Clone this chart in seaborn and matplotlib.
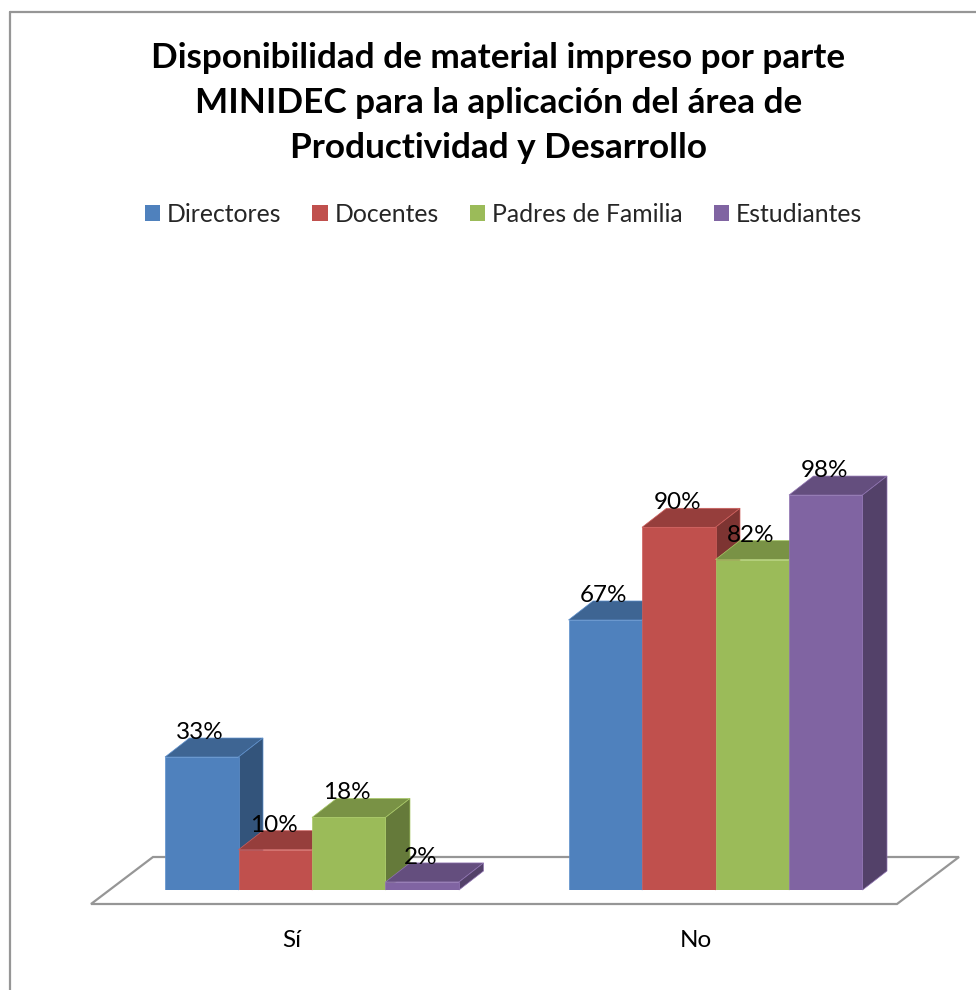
import matplotlib
matplotlib.use("Agg")
import matplotlib.pyplot as plt
from matplotlib.colors import to_rgb
from matplotlib.lines import Line2D
from matplotlib.patches import Patch, Polygon
import pandas as pd
import seaborn as sns

title = "Disponibilidad de material impreso por parte\nMINIDEC para la aplicación del área de\nProductividad y Desarrollo"
categories = ["Sí", "No"]
groups = ["Directores", "Docentes", "Padres de Familia", "Estudiantes"]
directores = [33, 67]
docentes = [10, 90]
padres = [18, 82]
estudiantes = [2, 98]
colors = ["#4F81BD", "#C0504D", "#9BBB59", "#8064A2"]

W, H = 976, 990
GREY = "#969696"

sns.set_theme(style="white")
plt.rcParams["font.family"] = ["Lato", "DejaVu Sans"]

rows = []
for name, vals in zip(groups, [directores, docentes, padres, estudiantes]):
    for c, v in zip(categories, vals):
        rows.append({"cat": c, "group": name, "pct": v})
df = pd.DataFrame(rows)


def fx(px):
    return px / W


def fy(py):
    return 1 - py / H


def shade(col, k):
    return tuple(v * k for v in to_rgb(col))


fig = plt.figure(figsize=(W / 100, H / 100), dpi=100, facecolor="white")
# plot area: one category = 403.5 px, 1 % = 4.03 px, baseline at y=890
ax = fig.add_axes([fx(110.25), fy(890), 807 / W, 640 / H], facecolor="none")
ax.set_zorder(2)

# outer frame, runs off the right and bottom of the image
fig.add_artist(Line2D([fx(10), fx(10)], [fy(12), 0], color=GREY, lw=1.6))
fig.add_artist(Line2D([fx(10), 1], [fy(12), fy(12)], color=GREY, lw=1.6))

# floor of the 3d chart
floor = [(91, 904), (897, 904), (959, 857), (153, 857)]
fig.add_artist(Polygon([(fx(x), fy(y)) for x, y in floor], closed=True,
                       transform=fig.transFigure, facecolor="white",
                       edgecolor=GREY, lw=1.6, joinstyle="miter"))

sns.barplot(data=df, x="cat", y="pct", hue="group", order=categories,
            hue_order=groups, palette=colors, saturation=1, width=0.7286,
            gap=0, legend=False, ax=ax)
ax.set_xlim(-0.5, 1.5)
ax.set_ylim(0, 640 / 4.03)

dx = 24.5 / 403.5
dy = 19 / 4.03
bars = []
for cont, col in zip(ax.containers, colors):
    for bar in cont.patches:
        bars.append((bar, col))
bars.sort(key=lambda b: b[0].get_x())

z = 3
for bar, col in bars:
    x0 = bar.get_x()
    x1 = x0 + bar.get_width()
    top = bar.get_height()
    edge = tuple(min(1, v + 0.06) for v in to_rgb(col))
    ax.add_patch(Polygon([(x0, top), (x1, top), (x1 + dx, top + dy), (x0 + dx, top + dy)],
                         facecolor=shade(col, 0.78), edgecolor=edge, lw=0.5, zorder=z, clip_on=False))
    ax.add_patch(Polygon([(x1, 0), (x1 + dx, dy), (x1 + dx, top + dy), (x1, top)],
                         facecolor=shade(col, 0.65), edgecolor=edge, lw=0.5, zorder=z, clip_on=False))
    bar.set_zorder(z + 0.5)
    bar.set_edgecolor(edge)
    bar.set_linewidth(0.5)
    z += 1
    ax.text(x0 + bar.get_width() / 2 - 1.5 / 403.5, top + dy - 1 / 4.03, f"{top:.0f}%",
            ha="center", va="baseline", fontsize=17.5, color="black", zorder=50, clip_on=False)

ax.set_frame_on(False)
ax.set_xlabel("")
ax.set_ylabel("")
ax.set_yticks([])
ax.set_xticks([i - 20 / 403.5 for i in range(len(categories))], categories)
ax.tick_params(axis="x", length=0, pad=29, labelsize=17.5, colors="black")

fig.text(fx(498.5), fy(103), title, ha="center", va="center", fontsize=25.3,
         fontweight="bold", color="black", linespacing=1.5)

handles = [Patch(facecolor=c, edgecolor="none", label=g) for c, g in zip(colors, groups)]
fig.legend(handles=handles, loc="center", bbox_to_anchor=(fx(503.5), fy(214)), ncol=4,
           frameon=False, fontsize=17.8, handlelength=0.61, handleheight=0.61,
           handletextpad=0.28, columnspacing=1.27, borderpad=0)

fig.savefig("out.png", dpi=100, facecolor="white")
